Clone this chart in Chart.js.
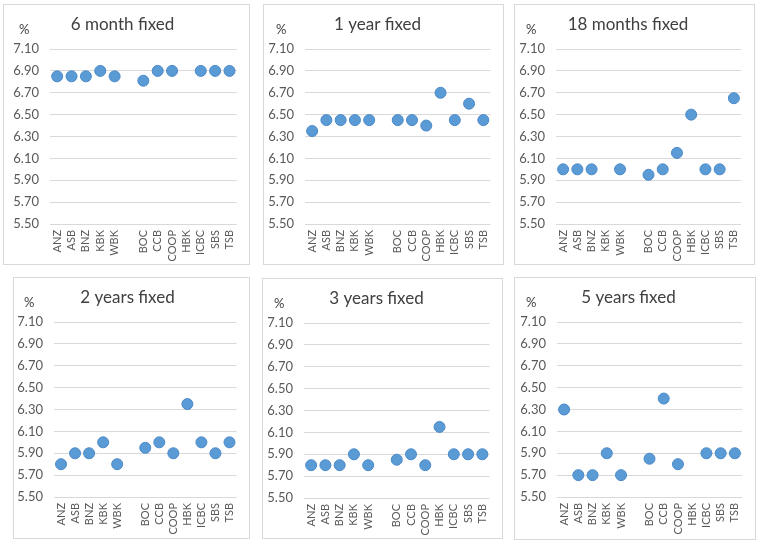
<!DOCTYPE html>
<html>
<head>
<meta charset="utf-8">
<script src="https://cdn.jsdelivr.net/npm/chart.js@4"></script>
<style>
  body { margin: 0; background: #fff; width: 760px; height: 545px; position: relative; overflow: hidden; }
  .panel { position: absolute; border: 1px solid #d9d9d9; box-sizing: border-box; }
  .panel canvas { position: absolute; left: 0; top: 0; }
  .pct { position: absolute; font: 13px Lato, sans-serif; color: #404040; }
</style>
</head>
<body>
<script>
// banks along the x axis, blank slot separates the two groups
const banks = ['ANZ', 'ASB', 'BNZ', 'KBK', 'WBK', '', 'BOC', 'CCB', 'COOP', 'HBK', 'ICBC', 'SBS', 'TSB']
const yTicks = [5.50, 5.70, 5.90, 6.10, 6.30, 6.50, 6.70, 6.90, 7.10]

const sixMonth   = [6.85, 6.85, 6.85, 6.90, 6.85, null, 6.81, 6.90, 6.90, null, 6.90, 6.90, 6.90]
const oneYear    = [6.35, 6.45, 6.45, 6.45, 6.45, null, 6.45, 6.45, 6.40, 6.70, 6.45, 6.60, 6.45]
const eighteenM  = [6.00, 6.00, 6.00, null, 6.00, null, 5.95, 6.00, 6.15, 6.50, 6.00, 6.00, 6.65]
const twoYears   = [5.80, 5.90, 5.90, 6.00, 5.80, null, 5.95, 6.00, 5.90, 6.35, 6.00, 5.90, 6.00]
const threeYears = [5.80, 5.80, 5.80, 5.90, 5.80, null, 5.85, 5.90, 5.80, 6.15, 5.90, 5.90, 5.90]
const fiveYears  = [6.30, 5.70, 5.70, 5.90, 5.70, null, 5.85, 6.40, 5.80, null, 5.90, 5.90, 5.90]

const titles = ['6 month fixed', '1 year fixed', '18 months fixed', '2 years fixed', '3 years fixed', '5 years fixed']
const series = [sixMonth, oneYear, eighteenM, twoYears, threeYears, fiveYears]

// panel boxes on the page: x, y, w, h, plot left / right edge, % label offset
const boxes = [
  {x: 3,   y: 4,   w: 247, h: 261, pl: 50,  pr: 241, px: 15},
  {x: 263, y: 4,   w: 241, h: 261, pl: 305, pr: 491, px: 12},
  {x: 514, y: 4,   w: 241, h: 261, pl: 556, pr: 741, px: 11},
  {x: 13,  y: 277, w: 237, h: 262, pl: 54,  pr: 241, px: 10},
  {x: 262, y: 278, w: 241, h: 261, pl: 304, pr: 490, px: 11},
  {x: 514, y: 277, w: 242, h: 263, pl: 557, pr: 742, px: 11}
]

const fnt = 'Lato, "Open Sans", sans-serif'

boxes.forEach((b, i) => {
  const div = document.createElement('div')
  div.className = 'panel'
  div.style.left = b.x + 'px'
  div.style.top = b.y + 'px'
  div.style.width = b.w + 'px'
  div.style.height = b.h + 'px'
  const cw = b.w - 2, ch = b.h - 2
  div.innerHTML = `<canvas width="${cw}" height="${ch}" style="width:${cw}px;height:${ch}px"></canvas><span class="pct" style="left:${b.px}px;top:16px">%</span>`
  document.body.appendChild(div)
  const cvs = div.querySelector('canvas')
  const yw = b.pl - (b.x + 1)
  const padR = (b.x + b.w - 1) - b.pr
  const bottomSpace = ch - 219

  new Chart(cvs, {
    type: 'line',
    data: {
      labels: banks,
      datasets: [{
        data: series[i],
        showLine: false,
        pointRadius: 5.5,
        pointHoverRadius: 5.5,
        pointBackgroundColor: '#5b9bd5',
        pointBorderColor: '#4a89c8',
        pointBorderWidth: 1
      }]
    },
    options: {
      responsive: false,
      animation: false,
      devicePixelRatio: 1,
      layout: { padding: { left: 0, right: padR, top: 0, bottom: 0 } },
      plugins: {
        legend: { display: false },
        tooltip: { enabled: false },
        title: {
          display: true,
          text: titles[i],
          color: '#404040',
          font: { family: fnt, size: 17, weight: 'normal' },
          padding: { top: 9, bottom: 14.6 }
        }
      },
      scales: {
        x: {
          offset: true,
          grid: { display: false, drawTicks: false },
          border: { display: false },
          ticks: {
            autoSkip: false,
            minRotation: 90,
            maxRotation: 90,
            padding: 6,
            color: '#595959',
            font: { family: fnt, size: 11 }
          },
          afterFit: s => { s.height = bottomSpace }
        },
        y: {
          min: 5.5,
          max: 7.1,
          afterBuildTicks: s => { s.ticks = yTicks.map(v => ({ value: v })) },
          grid: { color: '#d9d9d9', drawTicks: false },
          border: { display: false },
          ticks: {
            padding: 11,
            color: '#595959',
            font: { family: fnt, size: 13 },
            callback: v => v.toFixed(2)
          },
          afterFit: s => { s.width = yw }
        }
      }
    }
  })
})
</script>
</body>
</html>
